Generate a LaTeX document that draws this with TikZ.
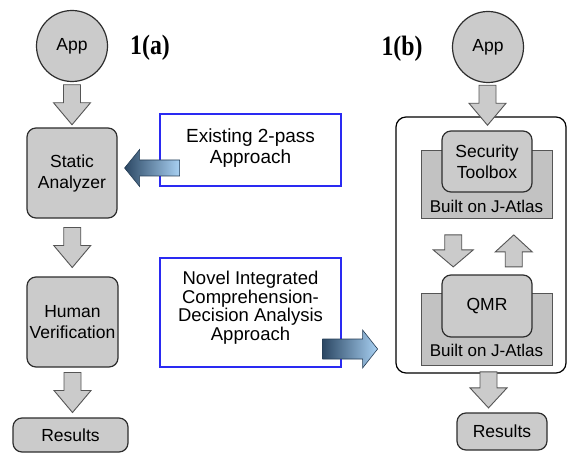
\documentclass[tikz,border=0pt]{standalone}
\usepackage{fontspec}
\setmainfont{Liberation Sans}
\newfontfamily\capfont{Liberation Serif}[FakeStretch=0.85]
\usetikzlibrary{calc}

\definecolor{boxgray}{HTML}{CBCBCB}
\definecolor{basegray}{HTML}{C2C2C2}
\definecolor{edgegray}{HTML}{2E2E2E}
\definecolor{arrowedge}{HTML}{555555}
\definecolor{noteblue}{HTML}{2A2AF2}
\definecolor{shdark}{HTML}{2C4864}
\definecolor{shlight}{HTML}{A8D0F2}

\tikzset{
  stage/.style={draw=edgegray, line width=1.2pt, fill=boxgray, rounded corners=9pt,
    align=center, inner sep=0pt, font=\fontsize{17.5}{21}\selectfont},
  appnode/.style={circle, draw=edgegray, line width=1.2pt, fill=boxgray,
    minimum size=71pt, inner sep=0pt, font=\fontsize{17.5}{21}\selectfont},
  note/.style={draw=noteblue, line width=1.2pt, fill=white, inner sep=0pt},
  notetext/.style={align=center, inner sep=0pt},
  base/.style={draw=arrowedge, line width=0.8pt, fill=basegray, inner sep=0pt},
  basetext/.style={inner sep=0pt, font=\fontsize{17}{20}\selectfont},
  frame/.style={draw=black, line width=1.2pt, rounded corners=10pt, inner sep=0pt},
  fatgray/.style={draw=arrowedge, line width=0.9pt, fill=boxgray, line join=miter},
  fatblue/.style={draw=shdark!85!black, line width=0.6pt, left color=shdark, right color=shlight},
  caption/.style={inner sep=0pt, font=\capfont\bfseries\fontsize{28}{30}\selectfont}
}

% Hollow block arrow pointing along +y (page down) before rotation:
% [style] centre, angle, length, shaft half width, head half width, head length
\newcommand\fatarrow[7][fatgray]{%
  \begin{scope}[shift={(#2)}, rotate=#3]
    \draw[#1] (-#5,-#4/2) -- (#5,-#4/2) -- (#5,#4/2-#7) -- (#6,#4/2-#7)
      -- (0,#4/2) -- (-#6,#4/2-#7) -- (-#5,#4/2-#7) -- cycle;
  \end{scope}}

\begin{document}
\begin{tikzpicture}[x=1pt, y=-1pt]
  \useasboundingbox (0,0) rectangle (569,454);
  \fill[white] (0,0) rectangle (569,454);

  % ---- 1(a): two-pass pipeline ----
  \node[appnode] (appA) at (72,46) {App};
  \node[caption] (capA) at (150,48) {1(a)};
  \node[stage, minimum width=90pt, minimum height=90pt] (sa) at (72,173) {Static\\Analyzer};
  \node[stage, minimum width=91pt, minimum height=90pt] (hv) at (72.5,322) {Human\\Verification};
  \node[stage, minimum width=115pt, minimum height=34pt] (resA) at (70.5,435) {Results};

  \fatarrow{$(appA.south)!0.5!(sa.north)$}{0}{40}{8.5}{18.5}{22}
  \fatarrow{$(sa.south)!0.5!(hv.north)$}{0}{40}{8.5}{18.5}{22}
  \fatarrow{$(hv.south)!0.5!(hv.south |- resA.north)$}{0}{40}{8.5}{18.5}{22}

  % ---- approach notes ----
  \node[note, minimum width=181pt, minimum height=72pt] (existing) at (250.5,150) {};
  \node[notetext, font=\fontsize{19}{21}\selectfont] (existingtxt) at ([yshift=2pt]existing.center)
    {Existing 2-pass\\Approach};
  \node[note, minimum width=181pt, minimum height=109pt] (novel) at (250.5,312.5) {};
  \node[notetext, font=\fontsize{18.5}{18.5}\selectfont] (noveltxt) at ([yshift=5pt]novel.center)
    {Novel Integrated\\Comprehension-\\Decision Analysis\\Approach};

  \coordinate (tipL) at ($(sa.east)+(7,-5)$);
  \draw[fatblue] (tipL) -- ++(15,-18.5) -- ++(0,10.5) -- ++(40,0) -- ++(0,16)
    -- ++(-40,0) -- ++(0,10.5) -- cycle;

  % ---- 1(b): integrated pipeline ----
  \node[appnode] (appB) at (488,47) {App};
  \node[caption] (capB) at (402,49) {1(b)};
  \node[frame, minimum width=170pt, minimum height=256pt] (cont) at (481,245) {};

  \node[base, minimum width=131pt, minimum height=68pt] (secbase) at (486.5,184) {};
  \node[basetext] (secatlas) at ([yshift=12pt]secbase.south) {Built on J-Atlas};
  \node[stage, minimum width=90pt, minimum height=61pt] (toolbox) at (487,161.5) {Security\\Toolbox};

  \node[base, minimum width=131pt, minimum height=72pt] (qmrbase) at (486.5,329) {};
  \node[basetext] (qmratlas) at ([yshift=15pt]qmrbase.south) {Built on J-Atlas};
  \node[stage, minimum width=90pt, minimum height=62pt] (qmr) at (487,306) {QMR};

  \node[stage, minimum width=90pt, minimum height=37pt] (resB) at (502,431.5) {Results};

  \coordinate (tipR) at ($(novel.east)+(36,36.5)$);
  \draw[fatblue] (tipR) -- ++(-15,-19) -- ++(0,9) -- ++(-40,0) -- ++(0,20)
    -- ++(40,0) -- ++(0,9) -- cycle;

  \fatarrow{$(appB.south)!0.5!(toolbox.north)+(0,-1.5)$}{0}{40}{8.5}{18.5}{22}
  \fatarrow{$(secbase.south)!0.5!(qmr.north)+(-33.5,4.5)$}{0}{32}{8.5}{20}{17}
  \fatarrow{$(secbase.south)!0.5!(qmr.north)+(27,4.5)$}{180}{32}{8.5}{18.5}{17}
  \fatarrow{$(qmrbase.south)!0.5!(qmrbase.south |- resB.north)+(2,1)$}{0}{36}{8.5}{18.5}{20}
\end{tikzpicture}
\end{document}
